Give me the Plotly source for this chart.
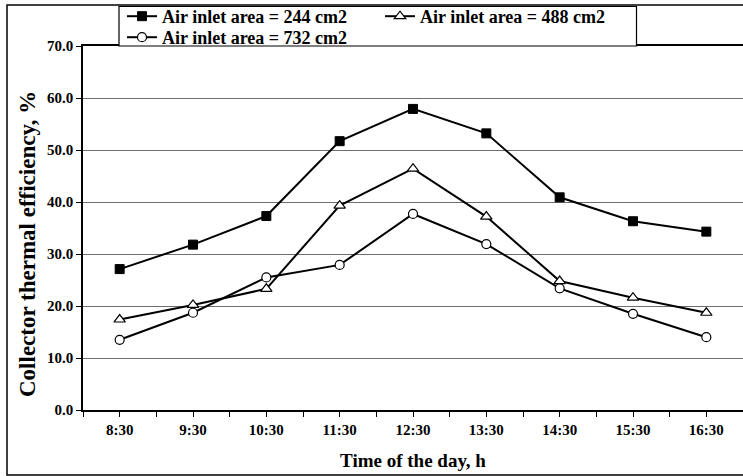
import plotly.graph_objects as go

times = ["8:30", "9:30", "10:30", "11:30", "12:30", "13:30", "14:30", "15:30", "16:30"]
eff_244 = [27.1, 31.8, 37.3, 51.7, 57.9, 53.2, 40.9, 36.3, 34.3]
eff_488 = [17.4, 20.2, 23.3, 39.3, 46.4, 37.2, 24.8, 21.6, 18.7]
eff_732 = [13.5, 18.7, 25.5, 27.9, 37.7, 31.9, 23.4, 18.5, 14.0]
y_ticks = [0, 10, 20, 30, 40, 50, 60, 70]

names = ["Air inlet area = 244 cm2", "Air inlet area = 488 cm2", "Air inlet area = 732 cm2"]
x_title = "Time of the day, h"
y_title = "Collector thermal efficiency, %"

FONT = "Liberation Serif"
W, H = 743, 476
ML, MT, MB = 83, 46, 66
PW = W - ML
PH = H - MT - MB

def px_x(px):
    return (px - ML) / PW

def px_y(py):
    return (H - MB - py) / PH

xs = list(range(len(times)))

fig = go.Figure()
fig.add_trace(go.Scatter(
    x=xs, y=eff_244, name=names[0], mode="lines+markers",
    line=dict(color="black", width=2),
    marker=dict(symbol="square", size=9, color="black", line=dict(color="black", width=1)),
    legend="legend",
))
fig.add_trace(go.Scatter(
    x=xs, y=eff_488, name=names[1], mode="lines+markers",
    line=dict(color="black", width=2),
    marker=dict(symbol="triangle-up", size=10, color="white", line=dict(color="black", width=1.2)),
    legend="legend",
))
fig.add_trace(go.Scatter(
    x=xs, y=eff_732, name=names[2], mode="lines+markers",
    line=dict(color="black", width=2),
    marker=dict(symbol="circle", size=9, color="white", line=dict(color="black", width=1.2)),
    legend="legend2",
))

tick_font = dict(family=FONT, size=15, color="black", weight="bold")
title_font = dict(family=FONT, size=19, color="black", weight="bold")
leg_font = dict(family=FONT, size=18, color="black", weight="bold")

fig.update_layout(
    width=W, height=H,
    margin=dict(l=ML, r=0, t=MT, b=MB, autoexpand=False),
    paper_bgcolor="white", plot_bgcolor="white",
    showlegend=True,
    legend=dict(
        orientation="h", x=px_x(122), xanchor="left", y=px_y(16.5), yanchor="middle",
        bgcolor="rgba(0,0,0,0)", borderwidth=0, font=leg_font,
        entrywidth=213, entrywidthmode="pixels", itemwidth=30,
    ),
    legend2=dict(
        orientation="h", x=px_x(122), xanchor="left", y=px_y(37.5), yanchor="middle",
        bgcolor="rgba(0,0,0,0)", borderwidth=0, font=leg_font, itemwidth=30,
    ),
    xaxis=dict(
        range=[-0.5, len(times) - 0.5],
        tickmode="array", tickvals=xs, ticktext=times,
        ticks="outside", ticklen=5, tickcolor="black", tickwidth=1,
        minor=dict(tickmode="array", tickvals=[i - 0.5 for i in range(len(times) + 1)],
                   ticks="outside", ticklen=5, tickcolor="black", tickwidth=1, showgrid=False),
        showline=True, linecolor="black", linewidth=1.5, mirror=True,
        showgrid=False, zeroline=False,
        tickfont=tick_font,
        title=dict(text=x_title, font=title_font, standoff=17),
    ),
    yaxis=dict(
        range=[0, 70], tickmode="array", tickvals=y_ticks,
        ticktext=[f"{v:.1f}" for v in y_ticks],
        ticks="outside", ticklen=5, tickcolor="black", tickwidth=1,
        showline=True, linecolor="black", linewidth=1.5,
        showgrid=True, gridcolor="#6e6e6e", gridwidth=1.2, zeroline=False,
        tickfont=tick_font,
    ),
    annotations=[
        dict(text=y_title, xref="paper", yref="paper", x=px_x(27), y=px_y(244),
             xanchor="center", yanchor="middle", textangle=-90, showarrow=False,
             font=dict(family=FONT, size=23, color="black", weight="bold")),
    ],
    shapes=[
        dict(type="rect", xref="paper", yref="paper",
             x0=px_x(7), x1=px_x(760), y0=px_y(475), y1=px_y(5),
             line=dict(color="black", width=1.5), fillcolor="rgba(0,0,0,0)", layer="below"),
        dict(type="rect", xref="paper", yref="paper",
             x0=px_x(119), x1=px_x(636.5), y0=px_y(46), y1=px_y(6.5),
             line=dict(color="black", width=1.2), fillcolor="white", layer="above"),
    ],
)

fig.write_html("out.html")
